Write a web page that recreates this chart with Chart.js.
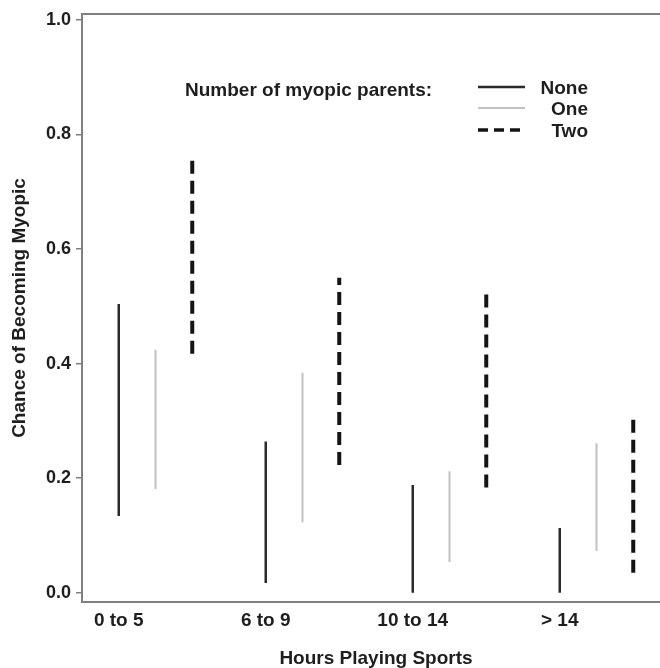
<!DOCTYPE html>
<html>
<head>
<meta charset="utf-8">
<script src="https://cdn.jsdelivr.net/npm/chart.js@4/dist/chart.umd.min.js"></script>
<style>
  html, body { margin: 0; padding: 0; background: #fff; overflow: hidden; width: 660px; height: 668px; }
  #wrap { width: 675px; height: 668px; }
</style>
</head>
<body>
<div id="wrap"><canvas id="chart" width="675" height="668"></canvas></div>
<script>
// hours playing sports
const categories = ['0 to 5', '6 to 9', '10 to 14', '> 14'];
const groups = ['None', 'One', 'Two'];
// range of chance per group (low / high)
const noneLow  = [0.134, 0.017, 0.000, 0.000];
const noneHigh = [0.504, 0.264, 0.188, 0.113];
const oneLow   = [0.181, 0.123, 0.054, 0.073];
const oneHigh  = [0.424, 0.384, 0.212, 0.261];
const twoLow   = [0.417, 0.223, 0.184, 0.035];
const twoHigh  = [0.758, 0.550, 0.527, 0.306];
const yTicks = [0, 0.2, 0.4, 0.6, 0.8, 1.0];
const groupOffset = [0, 0.25, 0.5];

const FONT = "'Liberation Sans', Arial, sans-serif";

function segments(lo, hi, off) {
  const pts = [];
  lo.forEach((v, i) => {
    pts.push({ x: i + off, y: v }, { x: i + off, y: hi[i] }, { x: i + off, y: null });
  });
  return pts;
}

// legend + top frame drawn by hand (title left, lines stacked to the right)
const frameLegend = {
  id: 'frameLegend',
  afterDraw(chart) {
    const { ctx, chartArea: a } = chart;
    ctx.save();
    ctx.strokeStyle = '#808080'; ctx.lineWidth = 2;
    ctx.beginPath(); ctx.moveTo(a.left, a.top); ctx.lineTo(a.right, a.top); ctx.stroke();
    ctx.fillStyle = '#1e1e1e';
    ctx.font = 'bold 19px ' + FONT;
    ctx.textBaseline = 'middle';
    ctx.textAlign = 'left';
    ctx.fillText('Number of myopic parents:', 185, 91);
    const rows = [89, 110, 132];
    chart.data.datasets.forEach((ds, i) => {
      ctx.save();
      ctx.strokeStyle = ds.borderColor; ctx.lineWidth = i === 2 ? 3.5 : ds.borderWidth;
      ctx.setLineDash(i === 2 ? [10, 6] : []);
      ctx.beginPath(); ctx.moveTo(478, rows[i] - 2); ctx.lineTo(525, rows[i] - 2); ctx.stroke();
      ctx.restore();
      ctx.textAlign = 'right';
      ctx.fillText(ds.label, 588, rows[i]);
    });
    ctx.restore();
  }
};

new Chart(document.getElementById('chart'), {
  type: 'line',
  data: {
    datasets: [
      { label: groups[0], data: segments(noneLow, noneHigh, groupOffset[0]), borderColor: '#2a2a2a', borderWidth: 2.5 },
      { label: groups[1], data: segments(oneLow, oneHigh, groupOffset[1]), borderColor: '#c2c2c2', borderWidth: 2 },
      { label: groups[2], data: segments(twoLow, twoHigh, groupOffset[2]), borderColor: '#141414', borderWidth: 4, borderDash: [13, 7] }
    ].map(d => Object.assign(d, { pointRadius: 0, spanGaps: false, borderCapStyle: 'butt', fill: false }))
  },
  options: {
    responsive: false,
    animation: false,
    devicePixelRatio: 1,
    layout: { padding: { top: 10, right: 5, left: 0, bottom: 0 } },
    plugins: { legend: { display: false }, tooltip: { enabled: false } },
    scales: {
      x: {
        type: 'linear', min: -0.25, max: 3.75,
        afterBuildTicks: s => { s.ticks = categories.map((c, i) => ({ value: i })); },
        afterFit: s => { s.height = 66; },
        ticks: { callback: v => categories[v], color: '#1e1e1e', font: { family: FONT, size: 19, weight: 'bold', lineHeight: 1 }, padding: 9, maxRotation: 0 },
        grid: { display: false, drawTicks: false },
        border: { display: true, color: '#808080', width: 2 },
        title: { display: true, text: 'Hours Playing Sports', color: '#1e1e1e', font: { family: FONT, size: 19, weight: 'bold', lineHeight: 1 }, padding: { top: 0, bottom: 0 } }
      },
      y: {
        min: -0.016, max: 1.01,
        afterBuildTicks: s => { s.ticks = yTicks.map(v => ({ value: v })); },
        afterFit: s => { s.width = 82; },
        ticks: { callback: v => v.toFixed(1), color: '#1e1e1e', font: { family: FONT, size: 18, weight: 'bold', lineHeight: 1 }, padding: 5 },
        grid: { drawOnChartArea: false, drawTicks: true, tickLength: 6, color: '#808080', lineWidth: 1.5 },
        border: { display: true, color: '#808080', width: 2 },
        title: { display: true, text: 'Chance of Becoming Myopic', color: '#1e1e1e', font: { family: FONT, size: 19, weight: 'bold', lineHeight: 1 }, padding: { top: 10, bottom: 0 } }
      }
    }
  },
  plugins: [frameLegend]
});
</script>
</body>
</html>
